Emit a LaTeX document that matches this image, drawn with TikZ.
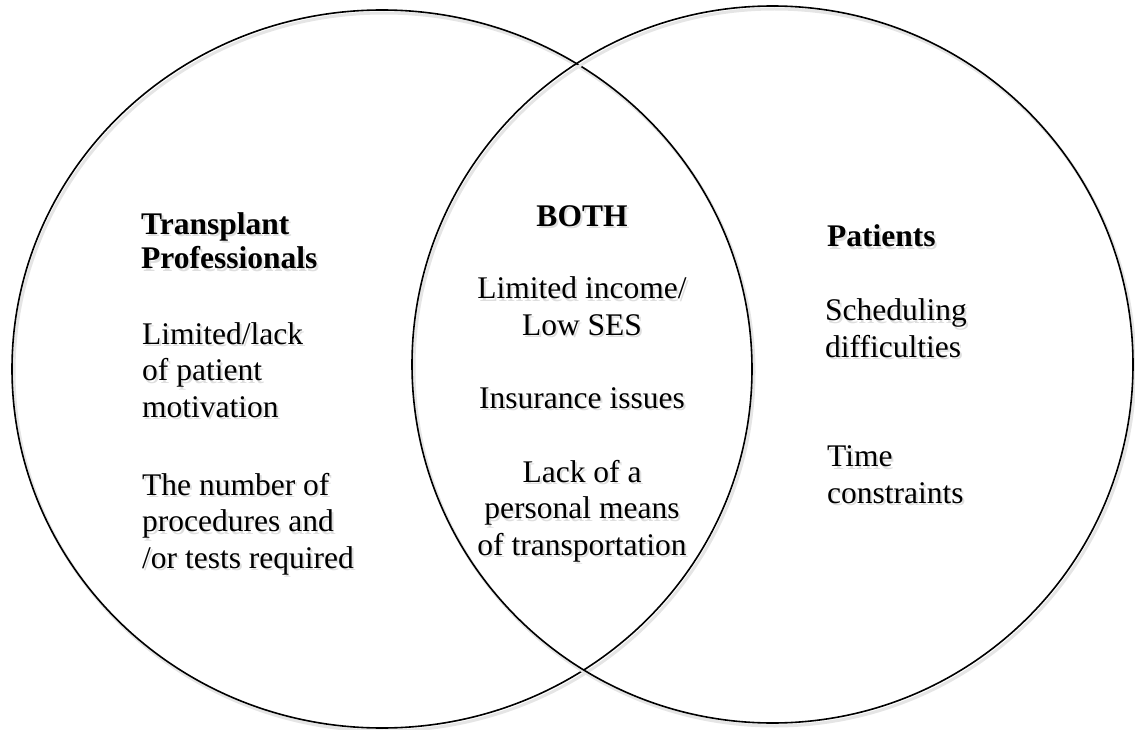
\documentclass[tikz,border=0pt]{standalone}
\usepackage{fontspec}
\setmainfont{Liberation Serif}
\usepackage{tikz}
\tikzset{
  vennline/.style={line width=1.6pt},
  vennshade/.style={line width=3pt, black!10},
  venntext/.style={inner sep=0pt, font=\fontsize{31.5}{36.5}\selectfont},
  venntitle/.style={venntext, font=\fontsize{31.5}{35}\selectfont\bfseries},
  textshade/.style={text=black!13, xshift=2pt, yshift=-2.5pt}
}
\newcommand{\vennset}[4] {\draw [vennshade] (#1) ++(2,3) ellipse [x radius=#3, y radius=#4]; \draw [vennline] (#1) ellipse [x radius=#3, y radius=#4]; \coordinate (#2) at (#1);}
\newcommand{\venntextnode}[4] {\node [#3, textshade] at (#1) {#4}; \node [#3] at (#1) (#2) {#4};}

\begin{document}
\begin{tikzpicture}[x=1pt, y=-1pt]
\useasboundingbox (0,0) rectangle (1135,730);

\vennset {382,369}{professionals}{370}{359};
\vennset {772.5,364.5}{patients}{360.5}{358.5};

% base anchor sits on the last line
\venntextnode {141,269}{ptitle}{venntitle, anchor=base west, align=left}{Transplant\\Professionals};
\venntextnode {142,417}{motivation}{venntext, anchor=base west, align=left}{Limited/lack\\of patient\\motivation};
\venntextnode {142,568}{procedures}{venntext, anchor=base west, align=left}{The number of\\procedures and\\/or tests required};

\venntextnode {582,226}{both}{venntitle, anchor=base}{BOTH};
\venntextnode {582,335}{income}{venntext, anchor=base, align=center}{Limited income/\\Low SES};
\venntextnode {582,408}{insurance}{venntext, anchor=base}{Insurance issues};
\venntextnode {582,555}{transport}{venntext, anchor=base, align=center}{Lack of a\\personal means\\of transportation};

\venntextnode {827,247}{ttitle}{venntitle, anchor=base west}{Patients};
\venntextnode {825,357}{scheduling}{venntext, anchor=base west, align=left}{Scheduling\\difficulties};
\venntextnode {827,503}{time}{venntext, anchor=base west, align=left}{Time\\constraints};

\end{tikzpicture}
\end{document}
